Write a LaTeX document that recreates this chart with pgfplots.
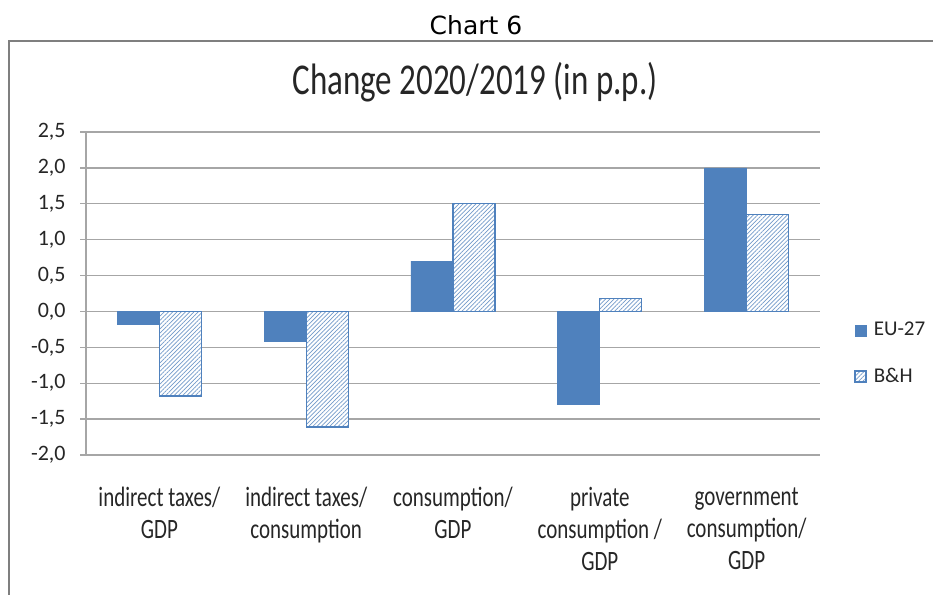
\documentclass[border=0pt]{standalone}
\usepackage{fontspec}
\setmainfont{Carlito}
\newfontfamily\calN{Carlito}[FakeStretch=0.75]
\newfontfamily\dv{DejaVu Sans}
\usepackage{pgfplots}
\pgfplotsset{compat=1.18}
\usetikzlibrary{patterns.meta}
\definecolor{eublue}{HTML}{4F81BD}
\definecolor{gridgray}{HTML}{A6A6A6}
\definecolor{framegray}{HTML}{7F7F7F}
\definecolor{txt}{HTML}{262626}
\begin{document}
\begin{tikzpicture}
\useasboundingbox (0,0) rectangle (466.5pt,297.5pt);
\draw[framegray, line width=1pt] (4.5pt,-1pt) -- (4.5pt,277pt) -- (467.5pt,277pt);
\node[anchor=base, inner sep=0pt, font=\dv\fontsize{12.5}{15}\selectfont] at (238pt,280pt) {Chart 6};
\node[anchor=base, inner sep=0pt, text=txt, font=\calN\fontsize{22}{27}\selectfont] at (237.5pt,250pt) {Change 2020/2019 (in p.p.)};
\begin{axis}[
  at={(43pt,70pt)}, anchor=south west,
  scale only axis, width=367pt, height=161.5pt,
  ybar=0pt, bar width=21pt,
  xmin=-0.5, xmax=4.5, ymin=-2, ymax=2.5,
  ytick={-2,-1.5,-1,-0.5,0,0.5,1,1.5,2,2.5},
  xtick={0,1,2,3,4},
  xticklabels={{indirect taxes/\\GDP},{indirect taxes/\\consumption},{consumption/\\GDP},{private\\consumption /\\GDP},{government\\consumption/\\GDP}},
  xticklabel style={align=center, anchor=north, inner sep=0pt, yshift=-13pt, text=txt, font=\calN\fontsize{14}{16}\selectfont},
  ymajorgrids, grid style={gridgray, line width=0.7pt},
  axis lines*=left,
  x axis line style={draw=none},
  y axis line style={gridgray, line width=0.7pt},
  xtick style={draw=none},
  ytick style={gridgray, line width=0.7pt},
  tick align=outside, major tick length=3pt,
  yticklabel style={font=\fontsize{11}{13}\selectfont, text=txt, inner sep=0pt, anchor=east, xshift=-7pt,
    /pgf/number format/.cd, use comma, fixed, fixed zerofill, precision=1, assume math mode=true},
  legend style={at={(rel axis cs:1,0.314)}, anchor=west, xshift=17pt, draw=none, fill=none,
    inner sep=0pt, row sep=14.5pt, font=\fontsize{10.5}{12}\selectfont, text=txt, nodes={inner sep=0pt},
    /tikz/every odd column/.append style={column sep=3.5pt}},
  legend cell align=left,
  legend image code/.code={\draw[#1] (0pt,-2.75pt) rectangle (5.5pt,2.75pt);},
]
\addplot[fill=eublue, draw=eublue, line width=0.3pt] coordinates {(0,-0.18) (1,-0.42) (2,0.7) (3,-1.3) (4,2.0)};
\addlegendentry{EU-27}
\addplot[fill=white, draw=eublue, line width=0.7pt,
  postaction={pattern={Lines[angle=45,distance=1.5pt,line width=0.35pt]}, pattern color=eublue!80}]
  coordinates {(0,-1.18) (1,-1.61) (2,1.5) (3,0.18) (4,1.35)};
\addlegendentry{B\&H}
\end{axis}
\end{tikzpicture}
\end{document}
